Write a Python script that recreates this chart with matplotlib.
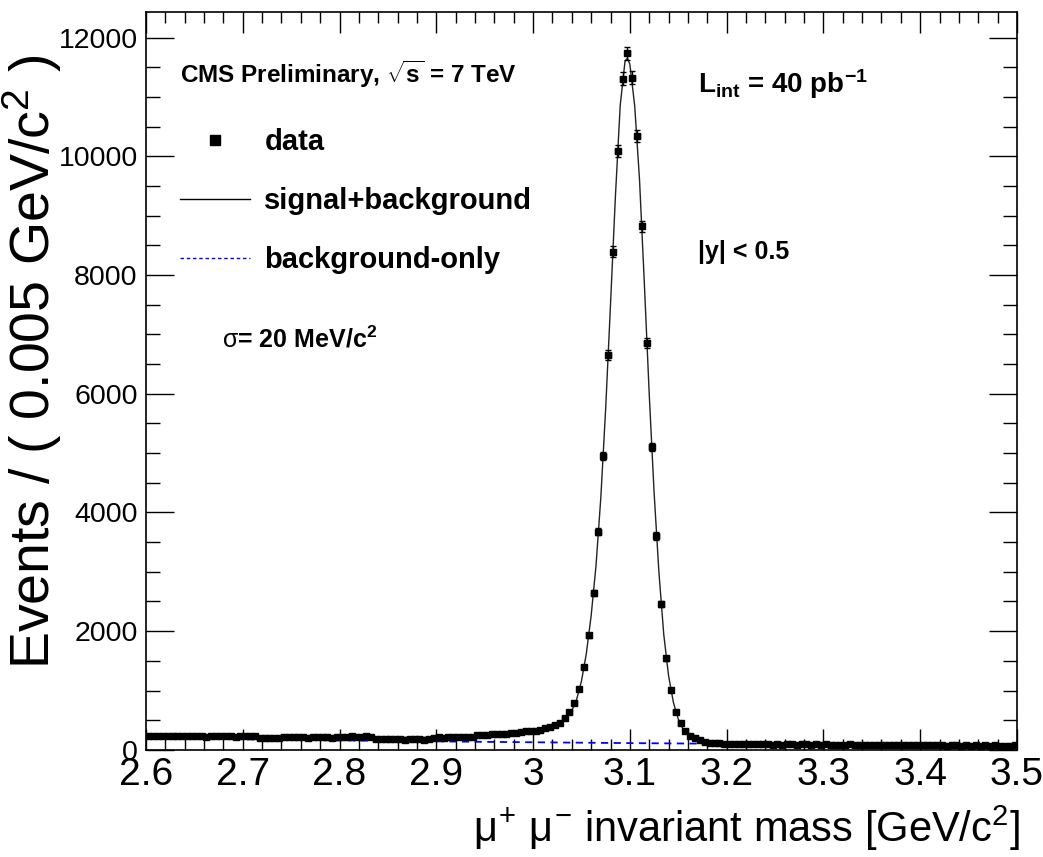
"""
plot.py
-------
CMS preliminary J/psi -> mu+ mu- invariant mass peak, |y| < 0.5,
with signal+background and background-only fit curves.
"""

import numpy as np
import matplotlib
matplotlib.use("Agg")
import matplotlib.pyplot as plt
from matplotlib.lines import Line2D
from matplotlib.ticker import MultipleLocator

# DATA  (bins of 0.005 GeV/c^2 from 2.6 to 3.5)
MASS_LO = 2.6
MASS_HI = 3.5
BIN_W   = 0.005

counts = [
    232, 241, 236, 228, 239, 233, 226, 237, 230, 242,
    229, 235, 224, 238, 231, 227, 236, 230, 225, 234,
    240, 228, 233, 204, 198, 208, 195, 206, 214, 209,
    216, 211, 219, 207, 214, 221, 210, 215, 208, 218,
    224, 218, 229, 215, 222, 226, 219, 184, 178, 188,
    176, 182, 186, 174, 181, 178, 185, 172, 183, 205,
    212, 208, 218, 214, 209, 216, 221, 213, 246, 252,
    250, 262, 268, 272, 270, 278, 285, 300, 315, 318,
    322, 335, 365, 390, 420, 455, 530, 630, 790, 1027,
    1392, 1931, 2638, 3675, 4955, 6650, 8389, 10089, 11308, 11734,
    11325, 10337, 8822, 6857, 5106, 3603, 2458, 1544, 1010, 630,
    450, 320, 235, 195, 158, 130, 118, 120, 112, 105,
    98, 104, 95, 101, 92, 99, 103, 94, 97, 90,
    96, 88, 93, 99, 86, 91, 95, 87, 92, 89,
    94, 85, 90, 83, 88, 92, 80, 86, 84, 89,
    82, 87, 79, 84, 81, 86, 78, 83, 80, 77,
    82, 76, 80, 74, 79, 72, 77, 81, 66, 75,
    73, 78, 70, 74, 71, 76, 68, 72, 69, 74,
]

# signal+background fit curve
fit_mass = [
    2.600, 2.650, 2.700, 2.750, 2.800, 2.850, 2.900, 2.925, 2.950, 2.975,
    3.000, 3.010, 3.020, 3.025, 3.030, 3.035, 3.040, 3.045, 3.050, 3.055,
    3.060, 3.065, 3.070, 3.075, 3.080, 3.085, 3.090, 3.095, 3.0975, 3.100,
    3.105, 3.110, 3.115, 3.120, 3.125, 3.130, 3.135, 3.140, 3.145, 3.150,
    3.155, 3.160, 3.165, 3.170, 3.180, 3.190, 3.200, 3.250, 3.300, 3.350,
    3.400, 3.450, 3.500,
]
fit_counts = [
    226, 223, 220, 216, 212, 209, 211, 218, 232, 255,
    292, 320, 368, 405, 460, 540, 660, 850, 1160, 1620,
    2260, 3100, 4250, 5750, 7500, 9300, 10850, 11600, 11650, 11550,
    10850, 9600, 7850, 6000, 4350, 3000, 1950, 1250, 800, 520,
    350, 250, 190, 155, 125, 112, 106, 96, 89, 84,
    79, 75, 71,
]

# background-only curve
bg_mass = [
    2.60, 2.65, 2.70, 2.75, 2.80, 2.85, 2.90, 2.95, 3.00, 3.05,
    3.10, 3.15, 3.20, 3.25, 3.30, 3.35, 3.40, 3.45, 3.50,
]
bg_counts = [
    198, 188, 178, 169, 160, 151, 143, 135, 128, 121,
    114, 108, 102, 96, 91, 86, 81, 77, 73,
]

X_TICKS = [2.6, 2.7, 2.8, 2.9, 3.0, 3.1, 3.2, 3.3, 3.4, 3.5]
X_TICK_LABELS = ["2.6", "2.7", "2.8", "2.9", "3", "3.1", "3.2", "3.3", "3.4", "3.5"]
Y_MAX = 12430

# FONTS  (ROOT Helvetica -> Liberation Sans)
FONT = "Liberation Sans"
plt.rcParams["font.family"]      = [FONT, "DejaVu Sans"]
plt.rcParams["mathtext.fontset"] = "custom"
plt.rcParams["mathtext.rm"]      = FONT
plt.rcParams["mathtext.it"]      = FONT
plt.rcParams["mathtext.bf"]      = FONT + ":bold"


def main():
    centers = MASS_LO + BIN_W * (np.arange(len(counts)) + 0.5)
    y       = np.array(counts, dtype=float)
    yerr    = np.sqrt(y)

    fig = plt.figure(figsize=(10.43, 8.57), dpi=100)
    ax  = fig.add_axes([0.140, 0.125, 0.835, 0.861])

    # ── curves ──
    ax.plot(bg_mass, bg_counts, color="blue", lw=1.3, ls=(0, (4, 3)), zorder=2)
    ax.plot(fit_mass, fit_counts, color="#222222", lw=1.0, zorder=3)

    # ── data ──
    ax.errorbar(centers, y, yerr=yerr, xerr=BIN_W / 2, fmt="s", color="black",
                ms=4, elinewidth=1.0, capsize=2, capthick=1.0, zorder=4)

    # ── axes ──
    ax.set_xlim(MASS_LO, MASS_HI)
    ax.set_ylim(0, Y_MAX)
    ax.set_xticks(X_TICKS)
    ax.set_xticklabels(X_TICK_LABELS)
    ax.xaxis.set_minor_locator(MultipleLocator(0.02))
    ax.yaxis.set_major_locator(MultipleLocator(2000))
    ax.yaxis.set_minor_locator(MultipleLocator(500))

    for side in ax.spines.values():
        side.set_linewidth(1.2)

    ax.tick_params(axis="both", which="both", direction="in",
                   top=True, right=True, width=1.0)
    ax.tick_params(axis="x", which="major", length=15, labelsize=28, pad=5)
    ax.tick_params(axis="x", which="minor", length=8)
    ax.tick_params(axis="y", which="major", length=20, labelsize=20.5, pad=6)
    ax.tick_params(axis="y", which="minor", length=10)

    ax.set_xlabel(r"$\mu^{+}$ $\mu^{-}$ invariant mass [GeV/c$^{2}$]",
                  fontsize=30, ha="right", va="center")
    ax.xaxis.set_label_coords(1.003, -0.106)
    ax.set_ylabel(r"Events / ( 0.005 GeV/c$^{2}$ )", fontsize=40,
                  ha="center", va="center")
    ax.yaxis.set_label_coords(-0.131, 0.526)

    # ── legend ──
    handles = [
        Line2D([], [], marker="s", ls="none", color="black", ms=6.5),
        Line2D([], [], color="black", lw=1.0),
        Line2D([], [], color="blue", lw=1.0, ls=(0, (2.5, 2))),
    ]
    labels = ["data", "signal+background", "background-only"]
    ax.legend(handles, labels, loc="upper left", bbox_to_anchor=(0.032, 0.851),
              frameon=False, prop={"weight": "bold", "size": 21},
              handlelength=2.4, handletextpad=0.5, labelspacing=1.07,
              borderpad=0.2, borderaxespad=0)

    # ── annotations ──
    ax.text(0.039, 0.915, r"CMS Preliminary, $\mathbf{\sqrt{s}}$ = 7 TeV",
            transform=ax.transAxes, fontsize=17.5, fontweight="bold",
            ha="left", va="center")
    ax.text(0.634, 0.902, r"$\mathbf{L_{int}}$ = 40 pb$^{\mathbf{-1}}$",
            transform=ax.transAxes, fontsize=20, fontweight="bold",
            ha="left", va="center")
    ax.text(0.634, 0.675, "|y| < 0.5", transform=ax.transAxes, fontsize=18,
            fontweight="bold", ha="left", va="center")
    ax.text(0.087, 0.556, r"$\sigma$= 20 MeV/c$^{\mathbf{2}}$",
            transform=ax.transAxes, fontsize=18, fontweight="bold",
            ha="left", va="center")

    fig.savefig("out.png", dpi=100)
    plt.close(fig)


if __name__ == "__main__":
    main()
